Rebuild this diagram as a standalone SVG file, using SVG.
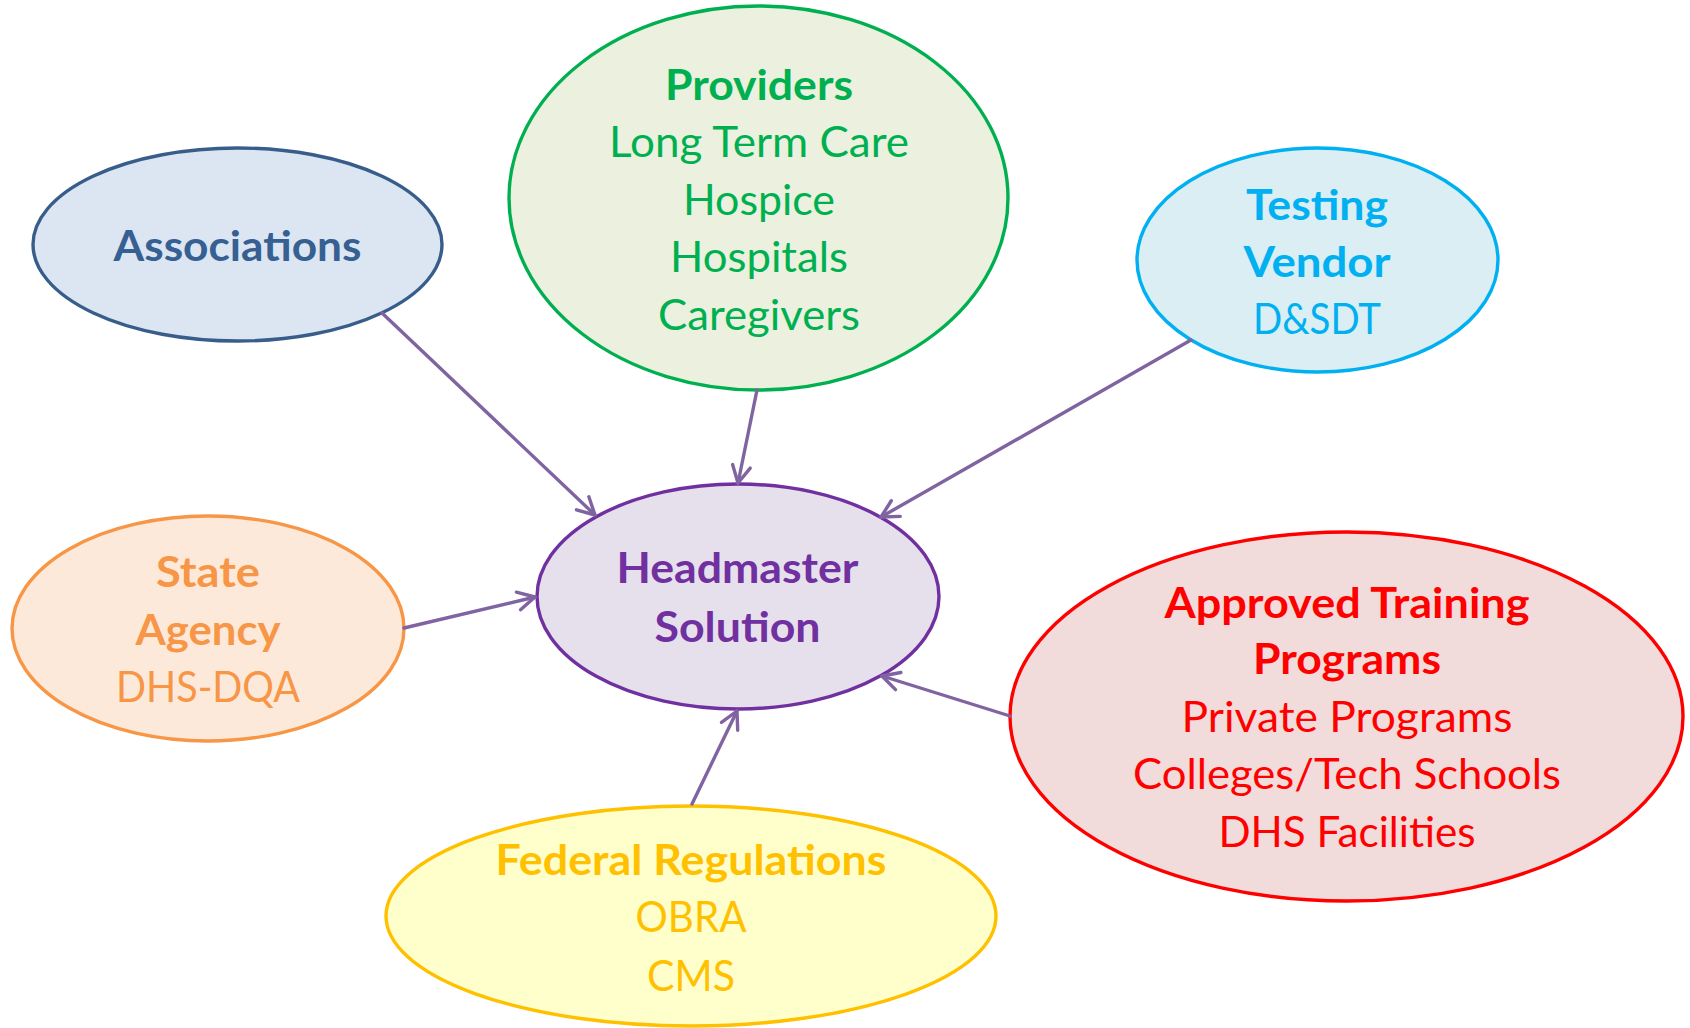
<svg xmlns="http://www.w3.org/2000/svg" width="1690" height="1028" viewBox="0 0 1690 1028">
<style>
text{font-family:Lato,"Open Sans","Liberation Sans",sans-serif;font-size:42.5px;text-anchor:middle}
.b{font-weight:700}
.node ellipse{stroke-width:3.4}
.conn line{stroke:#8064A2;stroke-width:3.4;stroke-linecap:round;marker-end:url(#arr)}
</style>
<defs>
<marker id="arr" markerUnits="userSpaceOnUse" markerWidth="40" markerHeight="40" viewBox="-20 -20 40 40" refX="0" refY="0" orient="auto" overflow="visible">
<path d="M-17,-9 L0,0 L-17,9" fill="none" stroke="#8064A2" stroke-width="3.4" stroke-linecap="round" stroke-linejoin="round"/>
</marker>
</defs>
<rect width="1690" height="1028" fill="#FFFFFF"/>
<g id="associations" class="node">
<ellipse cx="237.5" cy="244.5" rx="204.5" ry="96.5" fill="#DCE6F2" stroke="#385D8A"/>
<text class="b" x="237.5" y="261" fill="#376092" textLength="248" lengthAdjust="spacingAndGlyphs">Associations</text>
</g>
<g id="providers" class="node">
<ellipse cx="758.5" cy="198" rx="249.5" ry="192" fill="#EBF1DE" stroke="#00B050"/>
<g fill="#00B050">
<text class="b" x="759" y="100" textLength="188" lengthAdjust="spacingAndGlyphs">Providers</text>
<text x="759" y="157" textLength="300" lengthAdjust="spacingAndGlyphs">Long Term Care</text>
<text x="759" y="215" textLength="152" lengthAdjust="spacingAndGlyphs">Hospice</text>
<text x="759" y="272" textLength="178" lengthAdjust="spacingAndGlyphs">Hospitals</text>
<text x="759" y="330" textLength="202" lengthAdjust="spacingAndGlyphs">Caregivers</text>
</g>
</g>
<g id="testing-vendor" class="node">
<ellipse cx="1317.5" cy="260" rx="180.5" ry="112" fill="#DAEEF3" stroke="#00B0F0"/>
<g fill="#00B0F0">
<text class="b" x="1317" y="220" textLength="142" lengthAdjust="spacingAndGlyphs">Testing</text>
<text class="b" x="1317" y="277" textLength="147" lengthAdjust="spacingAndGlyphs">Vendor</text>
<text x="1317" y="334" textLength="128" lengthAdjust="spacingAndGlyphs">D&amp;SDT</text>
</g>
</g>
<g id="headmaster" class="node">
<ellipse cx="738" cy="596.5" rx="201" ry="112.5" fill="#E6E0EC" stroke="#7030A0"/>
<g fill="#7030A0">
<text class="b" x="737.5" y="583" textLength="242" lengthAdjust="spacingAndGlyphs">Headmaster</text>
<text class="b" x="737.5" y="642" textLength="166" lengthAdjust="spacingAndGlyphs">Solution</text>
</g>
</g>
<g id="state-agency" class="node">
<ellipse cx="208" cy="628.5" rx="196" ry="112.5" fill="#FDE9D9" stroke="#F79646"/>
<g fill="#F79646">
<text class="b" x="208" y="587" textLength="104" lengthAdjust="spacingAndGlyphs">State</text>
<text class="b" x="208" y="645" textLength="145" lengthAdjust="spacingAndGlyphs">Agency</text>
<text x="208" y="702" textLength="184" lengthAdjust="spacingAndGlyphs">DHS-DQA</text>
</g>
</g>
<g id="training-programs" class="node">
<ellipse cx="1346.5" cy="716.5" rx="336.5" ry="184.5" fill="#F2DCDB" stroke="#FF0000"/>
<g fill="#FF0000">
<text class="b" x="1347" y="618" textLength="365" lengthAdjust="spacingAndGlyphs">Approved Training</text>
<text class="b" x="1347" y="674" textLength="188" lengthAdjust="spacingAndGlyphs">Programs</text>
<text x="1347" y="732" textLength="331" lengthAdjust="spacingAndGlyphs">Private Programs</text>
<text x="1347" y="789" textLength="428" lengthAdjust="spacingAndGlyphs">Colleges/Tech Schools</text>
<text x="1347" y="847" textLength="257" lengthAdjust="spacingAndGlyphs">DHS Facilities</text>
</g>
</g>
<g id="federal-regulations" class="node">
<ellipse cx="691" cy="916" rx="305" ry="110" fill="#FFFFCC" stroke="#FFC000"/>
<g fill="#FFC000">
<text class="b" x="691" y="875" textLength="391" lengthAdjust="spacingAndGlyphs">Federal Regulations</text>
<text x="691" y="932" textLength="111" lengthAdjust="spacingAndGlyphs">OBRA</text>
<text x="691" y="991" textLength="88" lengthAdjust="spacingAndGlyphs">CMS</text>
</g>
</g>
<g id="connectors" class="conn">
<line x1="382" y1="313" x2="595" y2="515"/>
<line x1="757" y1="390" x2="738" y2="483"/>
<line x1="1191" y1="340" x2="881" y2="517"/>
<line x1="404" y1="628" x2="535" y2="597"/>
<line x1="1010" y1="716" x2="882" y2="676"/>
<line x1="692" y1="804" x2="737" y2="711"/>
</g>
</svg>
